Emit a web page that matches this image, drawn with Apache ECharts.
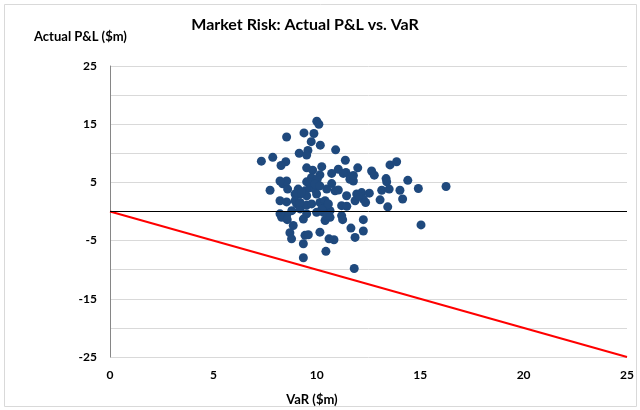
<!DOCTYPE html>
<html>
<head>
<meta charset="utf-8">
<script src="https://cdn.jsdelivr.net/npm/echarts@6/dist/echarts.min.js"></script>
<style>
  html, body { margin: 0; padding: 0; background: #fff; }
  #chart { width: 640px; height: 410px; }
</style>
</head>
<body>
<div id="chart"></div>
<script>
  // VaR ($m) for each day
  const varX = [
    10.0, 10.1, 8.54, 9.38, 9.86, 9.73, 10.17, 10.91, 9.15, 9.57,
    9.51, 7.32, 7.87, 8.5, 8.27, 11.38, 9.51, 9.8, 10.24, 11.04,
    11.41, 10.72, 11.98, 10.15, 9.74, 10.02, 7.74, 8.35, 8.59, 9.51,
    10.72, 10.88, 11.6, 11.77, 9.1, 9.19, 9.43, 9.67, 9.91, 9.99,
    10.48, 12.65, 12.78, 13.54, 13.86, 11.28, 11.77, 13.35, 13.38, 14.4,
    11.04, 11.44, 11.93, 12.17, 12.54, 13.14, 13.5, 14.02, 14.91, 16.25,
    13.06, 14.15, 11.85, 12.25, 12.36, 12.01, 11.2, 11.45, 13.43, 10.64,
    11.2, 11.25, 12.25, 15.04, 11.65, 12.25, 11.85, 10.64, 10.83, 10.59,
    8.95, 9.67, 9.91, 8.54, 8.22, 8.22, 8.54, 9.03, 8.79, 9.19,
    9.51, 9.75, 10.15, 10.4, 10.48, 10.32, 10.24, 9.99, 8.54, 8.3,
    9.35, 9.51, 10.4, 8.86, 10.15, 8.7, 8.78, 9.43, 9.59, 9.35,
    9.35, 10.44, 11.81, 8.22, 8.57, 10.49, 9.51, 8.95, 9.19, 10.15,
    10.56, 9.26
  ];
  // Actual P&L ($m) for the same days
  const pnlY = [
    15.5, 15.0, 12.8, 13.5, 13.4, 12.0, 11.4, 10.6, 10.0, 10.5,
    9.7, 8.65, 9.3, 8.55, 7.9, 8.8, 7.5, 7.1, 7.7, 7.25,
    6.7, 6.55, 7.5, 6.3, 5.8, 5.55, 3.65, 4.75, 3.85, 5.1,
    4.8, 3.55, 5.55, 5.25, 3.85, 3.0, 3.55, 4.1, 3.85, 3.0,
    3.85, 6.95, 6.25, 8.0, 8.55, 6.55, 6.2, 5.65, 5.1, 5.35,
    3.7, 2.7, 3.0, 3.25, 3.15, 3.65, 3.85, 3.65, 3.95, 4.3,
    2.0, 2.15, 1.85, 2.15, 1.55, 2.7, 1.0, 0.9, 0.8, 0.15,
    -0.7, -1.4, -1.4, -2.3, -2.85, -3.35, -4.45, -1.0, -4.85, -4.7,
    3.0, 5.0, 4.7, 5.25, 5.25, 1.85, 1.65, 1.3, 0.15, 0.45,
    1.1, 1.3, 1.55, 1.85, 1.0, -0.15, 0.4, -0.15, -0.7, -1.0,
    -1.3, -0.4, -1.55, -2.4, -3.55, -3.65, -4.7, -4.1, -4.0, -5.55,
    -7.95, -6.85, -9.8, -0.4, -1.4, -0.7, 2.7, 1.85, 1.55, 4.4,
    1.3, 3.25
  ];
  // VaR limit line: P&L = -VaR
  const limitLine = [[0, 0], [25, -25]];
  const yTickLabels = [-25, -15, -5, 5, 15, 25];

  const font = 'Lato, "Open Sans", sans-serif';
  const points = varX.map((x, i) => [x, pnlY[i]]);

  const chart = echarts.init(document.getElementById('chart'));
  chart.setOption({
    animation: false,
    textStyle: { fontFamily: font },
    graphic: [{
      type: 'rect',
      shape: { x: 4.5, y: 4.5, width: 632, height: 402 },
      style: { fill: 'none', stroke: '#d9d9d9', lineWidth: 1 },
      silent: true
    }],
    title: [
      {
        text: 'Market Risk: Actual P&L vs. VaR',
        left: 300, top: 12, textAlign: 'center',
        textStyle: { fontFamily: font, fontSize: 16, fontWeight: 'bold', color: '#000' }
      },
      {
        text: 'Actual P&L ($m)',
        left: 29, top: 25,
        textStyle: { fontFamily: font, fontSize: 13, fontWeight: 'bold', color: '#000' }
      },
      {
        text: 'VaR ($m)',
        left: 307, top: 388, textAlign: 'center',
        textStyle: { fontFamily: font, fontSize: 13, fontWeight: 'bold', color: '#000' }
      }
    ],
    grid: { left: 110, right: 13, top: 66, bottom: 53 },
    xAxis: {
      type: 'value',
      min: 0, max: 25, interval: 5,
      axisLine: { show: false, onZero: false },
      axisTick: { show: false },
      splitLine: { show: false },
      axisLabel: { margin: 12, fontSize: 12, fontWeight: 'bold', color: '#000', fontFamily: font }
    },
    yAxis: {
      type: 'value',
      min: -25, max: 25, interval: 5,
      axisLine: { show: true, lineStyle: { color: '#868686', width: 1 } },
      axisTick: { show: false },
      splitLine: { show: true, lineStyle: { color: '#d9d9d9', width: 1 } },
      axisLabel: {
        margin: 13, fontSize: 12, fontWeight: 'bold', color: '#000', fontFamily: font,
        formatter: v => yTickLabels.includes(v) ? String(v) : ''
      }
    },
    series: [
      {
        type: 'line',
        data: limitLine,
        symbol: 'none',
        lineStyle: { color: '#ff0000', width: 2 },
        silent: true,
        z: 3
      },
      {
        type: 'scatter',
        data: points,
        symbol: 'circle',
        symbolSize: 9,
        itemStyle: { color: '#1f497d', opacity: 1 },
        z: 4,
        markLine: {
          silent: true,
          symbol: 'none',
          label: { show: false },
          lineStyle: { color: '#000', width: 1, type: 'solid' },
          data: [{ yAxis: 0 }]
        }
      }
    ]
  });
</script>
</body>
</html>
